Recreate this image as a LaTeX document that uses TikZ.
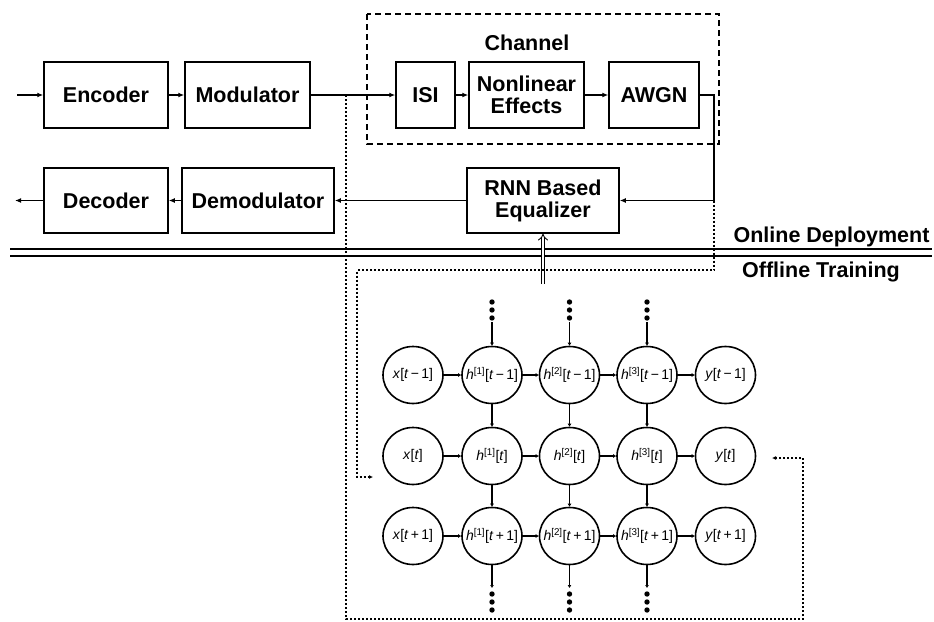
\documentclass[tikz,border=0pt]{standalone}
\usepackage{fontspec}
\setmainfont{Liberation Sans}
\usetikzlibrary{arrows.meta,shapes.geometric}
\begin{document}
\begin{tikzpicture}[x=1pt,y=-1pt,
  blk/.style={draw,line width=1.5pt,minimum height=66pt,inner sep=0pt,font=\bfseries\fontsize{21.5}{22}\selectfont,align=center},
  conn/.style={line width=1.2pt,-{Latex[length=6pt,width=5pt]}},
  wire/.style={line width=1.2pt},
  dots/.style={line width=1.4pt,dash pattern=on 2pt off 2pt},
  cell/.style={draw,ellipse,line width=1.6pt,minimum width=60pt,minimum height=57pt,inner sep=0pt,font=\fontsize{14}{15}\selectfont},
  link/.style={line width=1.2pt,-{Latex[length=3pt,width=4pt]}},
  lbl/.style={font=\bfseries\fontsize{21.5}{22}\selectfont}]
\useasboundingbox (0,0) rectangle (934,621);
% channel box
\draw[line width=1.5pt,dash pattern=on 6pt off 4pt] (367,14) rectangle (719,144);
\node[lbl] (chan) at (527,43) {Channel};
% blocks
\node[blk,minimum width=124pt] (enc) at (106,95) {Encoder};
\node[blk,minimum width=125pt] (mod) at (247.5,95) {Modulator};
\node[blk,minimum width=59pt] (isi) at (425.5,95) {ISI};
\node[blk,minimum width=115pt] (nl) at (526.5,95) {Nonlinear\\Effects};
\node[blk,minimum width=90pt] (awgn) at (654,95) {AWGN};
\node[blk,minimum width=152pt,minimum height=65pt] (rnn) at (543,200.5) {RNN Based\\Equalizer};
\node[blk,minimum width=152pt,minimum height=65pt] (dem) at (258,200.5) {Demodulator};
\node[blk,minimum width=124pt,minimum height=65pt] (dec) at (106,200.5) {Decoder};
% coordinates
\coordinate (in) at (17,95);
\coordinate (out) at (15,200.5);
\coordinate (tap) at (346,95);
\coordinate (awr) at (714,95);
\coordinate (awt) at (714,200.5);
% main connectors
\draw[conn] (in) -- (enc);
\draw[conn] (enc) -- (mod);
\draw[conn] (mod) -- (isi);
\draw[conn] (isi) -- (nl);
\draw[conn] (nl) -- (awgn);
\draw[conn] (awgn.east) -- (awr) -- (awt) -- (rnn.east);
\draw[conn] (rnn) -- (dem);
\draw[conn] (dem) -- (dec);
\draw[conn] (dec) -- (out);
% separator
\draw[line width=1.5pt] (10,249) -- (932,249);
\draw[line width=1.5pt] (10,256) -- (932,256);
\node[lbl,anchor=east] (online) at (933,237) {Online Deployment};
\node[lbl,anchor=center] (offline) at (821,272) {Offline Training};
% double arrow
\coordinate (dbl) at (543,284);
\draw[double,double distance=2.5pt,line width=0.9pt,-{Implies}] (dbl) -- (rnn.south);
% grid
\foreach \r/\yy/\tt in {1/375/\textit{t}\,−\,1, 2/456/\textit{t}, 3/536/\textit{t}\,+\,1}{
  \node[cell] (x\r) at (413,\yy) {\makebox[0pt]{\textit{x}[\tt]}};
  \node[cell] (a\r) at (492,\yy) {\makebox[0pt]{\textit{h}\textsuperscript{[1]}[\tt]}};
  \node[cell] (b\r) at (569.5,\yy) {\makebox[0pt]{\textit{h}\textsuperscript{[2]}[\tt]}};
  \node[cell] (c\r) at (647,\yy) {\makebox[0pt]{\textit{h}\textsuperscript{[3]}[\tt]}};
  \node[cell] (y\r) at (725.5,\yy) {\makebox[0pt]{\textit{y}[\tt]}};
  \draw[link] (x\r) -- (a\r);
  \draw[link] (a\r) -- (b\r);
  \draw[link] (b\r) -- (c\r);
  \draw[link] (c\r) -- (y\r);
}
\foreach \c/\xx in {a/492, b/569.5, c/647}{
  \draw[link] (\c1) -- (\c2);
  \draw[link] (\c2) -- (\c3);
  \coordinate (\c top) at (\xx,322);
  \coordinate (\c bot) at (\xx,588);
  \draw[link] (\c top) -- (\c1.north);
  \draw[link] (\c3.south) -- (\c bot);
  \foreach \d in {302,310,318,594,602,610} \fill (\xx,\d) circle (2.7pt);
}
% dotted training paths
\coordinate (t1) at (346,619);
\coordinate (t2) at (803,619);
\coordinate (t3) at (803,458);
\coordinate (t4) at (772,458);
\draw[dots,-{Latex[length=4pt,width=4pt]}] (tap) -- (t1) -- (t2) -- (t3) -- (t4);
\coordinate (s1) at (714,270);
\coordinate (s2) at (357,270);
\coordinate (s3) at (357,477);
\coordinate (s4) at (373,477);
\draw[dots,-{Latex[length=4pt,width=4pt]}] (awt) -- (s1) -- (s2) -- (s3) -- (s4);
\end{tikzpicture}
\end{document}
